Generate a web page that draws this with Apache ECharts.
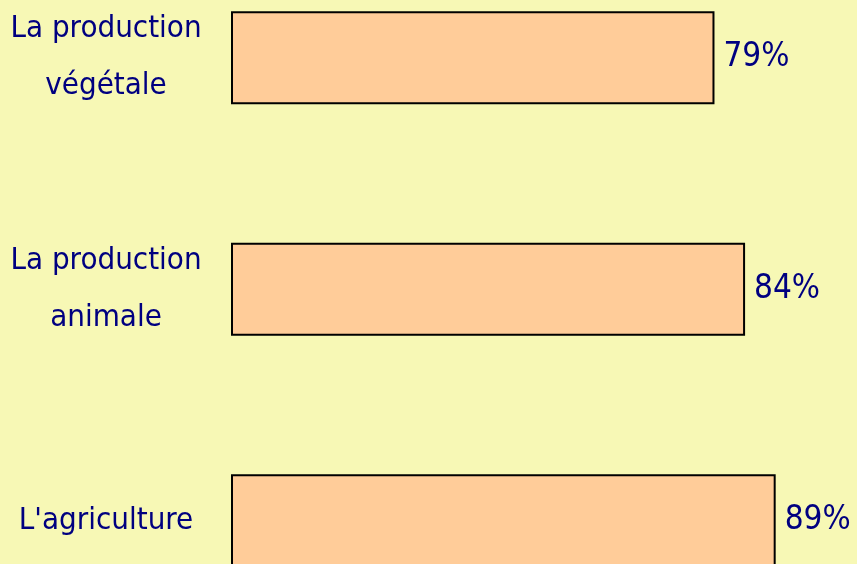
<!DOCTYPE html>
<html><head><meta charset="utf-8">
<script src="https://cdn.jsdelivr.net/npm/echarts@6/dist/echarts.min.js"></script>
<style>html,body{margin:0;padding:0;background:#F7F8B5;}#c{width:857px;height:564px;}</style>
</head><body><div id="c"></div>
<script>
const categories = ["La production\nvégétale", "La production\nanimale", "L'agriculture"];
const values = [79, 84, 89];
const valueSuffix = "%";

const FONT = '"DejaVu Sans Condensed", "Liberation Sans Narrow", sans-serif';
const chart = echarts.init(document.getElementById('c'), null, {renderer: 'canvas'});
chart.setOption({
  backgroundColor: '#F7F8B5',
  animation: false,
  grid: {left: 231, width: 612, top: -58, height: 694.5, containLabel: false, outerBoundsMode: 'none'},
  xAxis: {type: 'value', min: 0, max: 100, show: false},
  yAxis: {
    type: 'category', data: categories, inverse: true,
    axisLine: {show: false}, axisTick: {show: false}, splitLine: {show: false},
    axisLabel: {
      color: '#000080', fontFamily: FONT, fontSize: 31,
      lineHeight: 57, align: 'center', margin: 125
    }
  },
  series: [{
    type: 'bar', data: values, barWidth: 93,
    itemStyle: {color: '#FFCC99', borderColor: '#000', borderWidth: 2},
    label: {
      show: true, position: 'right', distance: 9,
      formatter: p => p.value + valueSuffix,
      color: '#000080', fontFamily: FONT, fontSize: 33
    }
  }]
});
</script></body></html>
